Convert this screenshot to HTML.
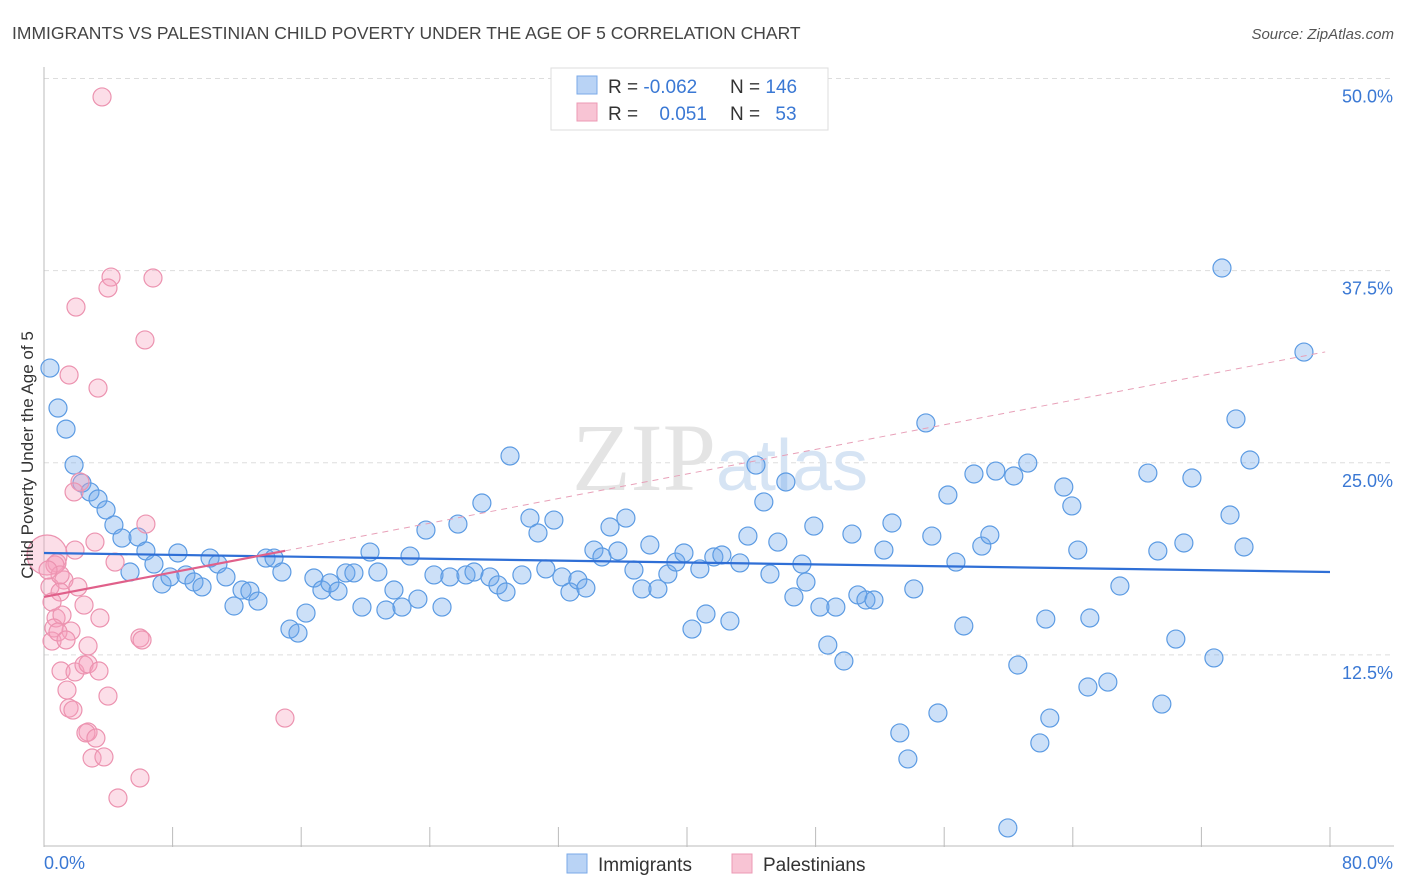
<!DOCTYPE html>
<html><head><meta charset="utf-8"><style>
body{margin:0;background:#fff;font-family:"Liberation Sans",sans-serif;}
svg{display:block}
</style></head><body>
<svg id="chart" width="1406" height="892" xmlns="http://www.w3.org/2000/svg">
<text x="12" y="39" font-size="17.5" fill="#444">IMMIGRANTS VS PALESTINIAN CHILD POVERTY UNDER THE AGE OF 5 CORRELATION CHART</text>
<text x="1394" y="39" font-size="15" fill="#555" font-style="italic" text-anchor="end">Source: ZipAtlas.com</text>
<g id="grid"></g>
<text x="720" y="490" font-size="96" fill="#e4e4e4" text-anchor="middle" font-family="Liberation Serif,serif">ZIP<tspan fill="#d6e4f4" font-family="Liberation Sans,sans-serif" font-size="72">atlas</tspan></text>
<g id="axes"></g>
<g id="marks"></g>
<g id="lines"></g>
<g>
<rect x="551" y="68" width="277" height="62" fill="#fff" stroke="#ddd"/>
<rect x="577" y="76" width="20" height="18" fill="#b9d3f5" stroke="#7aaae8"/>
<rect x="577" y="103" width="20" height="18" fill="#f8c4d4" stroke="#ec9ab4"/>
<text x="608" y="93" font-size="19" fill="#333">R = <tspan fill="#3a78d4">-0.062</tspan></text>
<text x="730" y="93" font-size="19" fill="#333">N = <tspan fill="#3a78d4">146</tspan></text>
<text x="608" y="120" font-size="19" fill="#333">R = <tspan fill="#3a78d4" dx="16">0.051</tspan></text>
<text x="730" y="120" font-size="19" fill="#333">N = <tspan fill="#3a78d4" dx="10">53</tspan></text>
</g>
<g>
<rect x="567" y="854" width="20" height="19" fill="#b9d3f5" stroke="#7aaae8"/>
<text x="598" y="871" font-size="19" fill="#333">Immigrants</text>
<rect x="732" y="854" width="20" height="19" fill="#f8c4d4" stroke="#ec9ab4"/>
<text x="763" y="871" font-size="19" fill="#333">Palestinians</text>
</g>
<text transform="translate(33,455) rotate(-90)" font-size="17" fill="#333" text-anchor="middle">Child Poverty Under the Age of 5</text>
</svg>
<script>
const yTicks=[12.5,25,37.5,50];
const yTickLabels=["12.5%","25.0%","37.5%","50.0%"];
const xTickCount=[0,8,16,24,32,40,48,56,64,72,80];
const xEndLabels=["0.0%","80.0%"];
const blueX=[0.37,0.87,1.37,1.87,2.36,2.86,3.36,3.86,4.35,4.85,5.35,5.85,6.34,6.84,7.34,7.84,8.33,8.83,9.33,9.83,10.33,10.82,11.32,11.82,12.32,12.81,13.31,13.81,14.31,14.8,15.3,15.8,16.3,16.79,17.29,17.79,18.29,18.78,19.28,19.78,20.28,20.77,21.27,21.77,22.27,22.77,23.26,23.76,24.26,24.76,25.25,25.75,26.25,26.75,27.24,27.74,28.24,28.74,28.99,29.73,30.23,30.73,31.22,31.72,32.22,32.72,33.21,33.71,34.21,34.71,35.21,35.7,36.2,36.7,37.2,37.69,38.19,38.81,39.31,39.81,40.31,40.8,41.18,41.67,42.17,42.67,43.29,43.79,44.29,44.78,45.16,45.65,46.15,46.65,47.15,47.4,47.89,48.27,48.76,49.26,49.76,50.26,50.63,51.13,51.63,52.25,52.75,53.24,53.74,54.11,54.86,55.23,55.61,56.23,56.73,57.22,57.85,58.34,58.84,59.21,59.96,60.33,60.58,61.2,61.95,62.32,62.57,63.44,63.94,64.31,64.94,65.06,66.18,66.93,68.67,69.29,69.54,70.41,70.91,71.41,72.78,73.28,73.78,74.15,74.65,75.02,78.38];
const blueY=[31.16,28.56,27.19,24.85,23.68,23.1,22.64,21.93,20.95,20.1,17.89,20.17,19.26,18.41,17.11,17.57,19.13,17.7,17.24,16.92,18.8,18.41,17.57,15.68,16.72,16.65,16.0,18.8,18.8,17.89,14.18,13.92,15.22,17.5,16.72,17.18,16.65,17.83,17.83,15.61,19.19,17.89,15.42,16.72,15.61,18.93,16.13,20.62,17.7,15.61,17.57,21.01,17.7,17.89,22.38,17.57,17.05,16.59,25.44,17.7,21.4,20.43,18.09,21.27,17.57,16.59,17.37,16.85,19.32,18.87,20.82,19.26,21.4,18.02,16.79,19.65,16.79,17.76,18.54,19.13,14.18,18.09,15.16,18.87,19.0,14.7,18.48,20.23,24.85,22.45,17.76,19.84,23.75,16.27,18.41,17.24,20.88,15.61,13.14,15.61,12.1,20.36,16.4,16.07,16.07,19.32,21.08,7.42,5.73,16.79,27.59,20.23,8.72,22.9,18.54,14.38,24.27,19.58,20.3,24.46,1.24,24.14,11.84,24.98,6.77,14.83,8.39,23.42,22.19,19.32,10.41,14.9,10.73,16.98,24.33,19.26,9.3,13.53,19.78,24.01,12.3,37.67,21.6,27.85,19.52,25.18,32.2];
const pinkX=[3.61,4.17,3.98,6.78,1.99,6.28,1.56,3.36,2.24,1.87,6.34,3.17,1.93,0.19,0.81,4.42,1.24,2.11,0.37,1.0,2.49,0.5,0.75,1.12,3.48,0.62,1.68,5.97,6.1,0.5,2.74,1.06,1.93,2.49,2.74,3.42,1.43,3.98,1.56,1.8,2.74,2.61,3.23,2.99,3.73,14.99,5.97,4.6,0.68,1.0,0.25,0.87,1.37];
const pinkY=[48.8,37.08,36.37,37.02,35.13,32.99,30.71,29.86,23.75,23.1,21.01,19.84,19.32,19.0,18.48,18.54,17.37,16.92,16.92,16.59,15.74,15.94,14.9,15.09,14.9,14.25,14.05,13.6,13.47,13.4,13.08,11.45,11.39,11.84,11.91,11.45,10.21,9.82,9.04,8.91,7.48,7.42,7.09,5.79,5.86,8.39,4.49,3.19,18.35,17.7,18.02,13.99,13.47];
const blueTrend=[19.13,17.89];
const pinkTrend=[16.27,0.2];
const NS="http://www.w3.org/2000/svg";
const X0=44,X1=1330,Y0=847,Y50=78.5;
function sx(v){return X0+v*(X1-X0)/80;}
function sy(v){return Y0-v*(Y0-Y50)/50;}
function mk(tag,attrs,parent){const e=document.createElementNS(NS,tag);for(const k in attrs)e.setAttribute(k,attrs[k]);parent.appendChild(e);return e;}
const grid=document.getElementById('grid'),axes=document.getElementById('axes'),marks=document.getElementById('marks'),lines=document.getElementById('lines');
yTicks.forEach((t,i)=>{
 const l=mk('line',{x1:X0,x2:1394,y1:sy(t),y2:sy(t),stroke:'#ddd','stroke-dasharray':'5,4'},grid);
 
 
 const tx=mk('text',{x:1393,y:sy(t)+24,'font-size':18,fill:'#3a78d4','text-anchor':'end'},axes);
 tx.textContent=yTickLabels[i];
 
 
});
const ya=mk('line',{x1:X0,x2:X0,y1:67,y2:Y0,stroke:'#bbb'},axes);


const xa=mk('line',{x1:X0,x2:1394,y1:Y0-1,y2:Y0-1,stroke:'#bbb'},axes);


xTickCount.forEach(t=>{
 const l=mk('line',{x1:sx(t),x2:sx(t),y1:827,y2:Y0,stroke:'#bbb'},axes);
 
 
});
const xl0=mk('text',{x:44,y:869,'font-size':18,fill:'#3a78d4'},axes);xl0.textContent=xEndLabels[0];


const xl1=mk('text',{x:1393,y:869,'font-size':18,fill:'#3a78d4','text-anchor':'end'},axes);xl1.textContent=xEndLabels[1];


blueX.forEach((v,i)=>{
 const c=mk('circle',{cx:sx(v),cy:sy(blueY[i]),r:9,fill:'rgba(110,165,235,0.35)',stroke:'#5c9be3','stroke-width':1.2},marks);
 
 
});
pinkX.forEach((v,i)=>{
 const c=mk('circle',{cx:sx(v),cy:sy(pinkY[i]),r:i===13?20:9,fill:'rgba(245,160,188,0.35)',stroke:'#ec93b0','stroke-width':1.2},marks);
 
 
});
const bl=mk('line',{x1:sx(0),y1:sy(blueTrend[0]),x2:sx(80),y2:sy(blueTrend[1]),stroke:'#2f6fd6','stroke-width':2.2},lines);


const pd=mk('line',{x1:sx(15),y1:sy(pinkTrend[0]+pinkTrend[1]*15),x2:sx(79.7),y2:sy(pinkTrend[0]+pinkTrend[1]*79.7),stroke:'#e8a0b8','stroke-width':1,'stroke-dasharray':'6,5'},lines);


const ps=mk('line',{x1:sx(0),y1:sy(pinkTrend[0]),x2:sx(15),y2:sy(pinkTrend[0]+pinkTrend[1]*15),stroke:'#e0608a','stroke-width':2.2},lines);


</script>
</body></html>
